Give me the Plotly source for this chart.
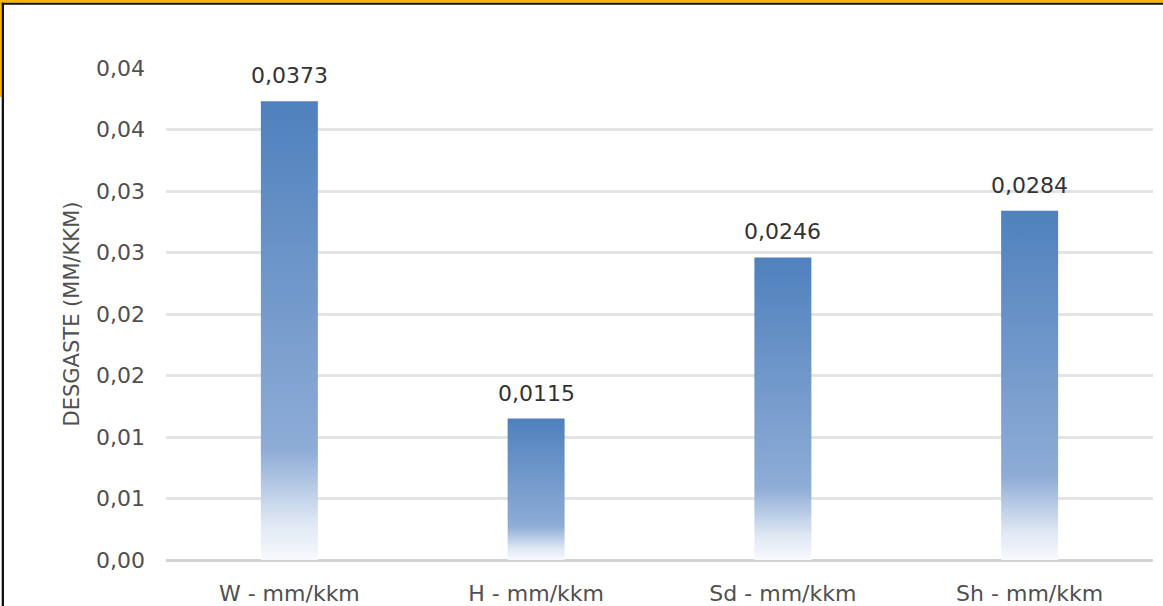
import plotly.graph_objects as go

# Wear per component (mm/kkm)
categories = ["W - mm/kkm", "H - mm/kkm", "Sd - mm/kkm", "Sh - mm/kkm"]
desgaste = [0.0373, 0.0115, 0.0246, 0.0284]

# Y axis ticks (labels rounded to two decimals, comma separator)
y_tickvals = [0.0, 0.005, 0.01, 0.015, 0.02, 0.025, 0.03, 0.035, 0.04]
y_ticktext = ["0,00", "0,01", "0,01", "0,02", "0,02", "0,03", "0,03", "0,04", "0,04"]

FONT = "DejaVu Sans"
BAR_HALF = 0.1155
W, H = 1163, 606
L, R, T, B = 166, 10, 68, 46

# vertical gradient: pale at the base, Excel blue at the top
grad = [
    [0.0, "#f7f9fd"],
    [0.08, "#dfe8f4"],
    [0.24, "#8eacd6"],
    [1.0, "#4f81bd"],
]

fig = go.Figure()

for i, v in enumerate(desgaste):
    fig.add_trace(go.Scatter(
        x=[i - BAR_HALF, i - BAR_HALF, i + BAR_HALF, i + BAR_HALF],
        y=[0, v, v, 0],
        mode="lines",
        line=dict(width=0),
        fill="toself",
        fillgradient=dict(type="vertical", colorscale=grad),
        hoverinfo="skip",
        showlegend=False,
    ))
    fig.add_annotation(
        x=i, y=v,
        text=f"{v:.4f}".replace(".", ","),
        showarrow=False,
        yanchor="bottom",
        yshift=11,
        font=dict(family=FONT, size=22, color="#333333"),
    )

fig.update_xaxes(
    range=[-0.5, len(categories) - 0.5],
    tickvals=list(range(len(categories))),
    ticktext=categories,
    showgrid=False,
    zeroline=False,
    showline=False,
    ticks="",
    ticklabelstandoff=18,
    automargin=False,
    tickfont=dict(family=FONT, size=22, color="#505050"),
)

fig.update_yaxes(
    range=[0, 0.04],
    tickvals=y_tickvals,
    ticktext=y_ticktext,
    showgrid=True,
    gridcolor="#e4e4e4",
    gridwidth=2.5,
    zeroline=True,
    zerolinecolor="#d4d4d4",
    zerolinewidth=3,
    showline=False,
    ticks="",
    ticklabelstandoff=20,
    automargin=False,
    tickfont=dict(family=FONT, size=22, color="#505050"),
    title=dict(text="DESGASTE (MM/KKM)", standoff=10,
               font=dict(family=FONT, size=21, color="#505050")),
)


def px_x(px):
    return (px - L) / (W - L - R)


def px_y(py):
    return (H - B - py) / (H - T - B)


# frame along the top and left edges
frame = [
    (0, 0, W, 2.7, "#f5b800"),
    (0, 0, 1.7, 97, "#f5b800"),
    (1.7, 2.7, W, 4.7, "#111111"),
    (1.7, 2.7, 4.0, H, "#111111"),
]
for x0, y0, x1, y1, c in frame:
    fig.add_shape(type="rect", xref="paper", yref="paper",
                  x0=px_x(x0), x1=px_x(x1), y0=px_y(y1), y1=px_y(y0),
                  fillcolor=c, line=dict(width=0), layer="above")

fig.update_layout(
    width=W, height=H,
    margin=dict(l=L, r=R, t=T, b=B),
    paper_bgcolor="white",
    plot_bgcolor="white",
    showlegend=False,
)

fig.write_html("out.html")
